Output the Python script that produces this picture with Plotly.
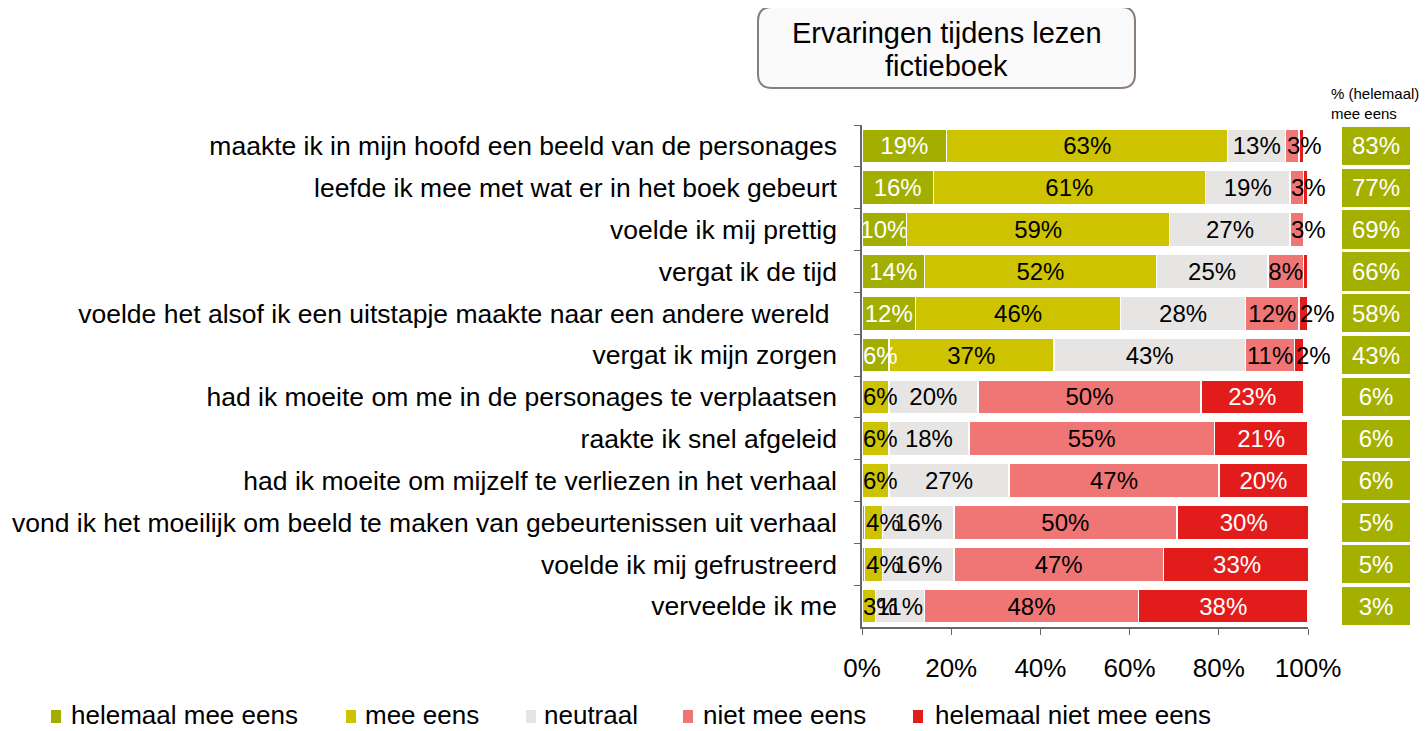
import plotly.graph_objects as go

categories = [
    "maakte ik in mijn hoofd een beeld van de personages",
    "leefde ik mee met wat er in het boek gebeurt",
    "voelde ik mij prettig",
    "vergat ik de tijd",
    "voelde het alsof ik een uitstapje maakte naar een andere wereld ",
    "vergat ik mijn zorgen",
    "had ik moeite om me in de personages te verplaatsen",
    "raakte ik snel afgeleid",
    "had ik moeite om mijzelf te verliezen in het verhaal",
    "vond ik het moeilijk om beeld te maken van gebeurtenissen uit verhaal",
    "voelde ik mij gefrustreerd",
    "verveelde ik me",
]

helemaal_mee_eens = [19, 16, 10, 14, 12, 6, 0, 0, 0, 0.6, 0.6, 0]
mee_eens = [63, 61, 59, 52, 46, 37, 6, 6, 6, 4, 4, 3]
neutraal = [13, 19, 27, 25, 28, 43, 20, 18, 27, 16, 16, 11]
niet_mee_eens = [3, 3, 3, 8, 12, 11, 50, 55, 47, 50, 47, 48]
helemaal_niet_mee_eens = [1, 1, 0, 1, 2, 2, 23, 21, 20, 30, 33, 38]

totaal_mee_eens = [83, 77, 69, 66, 58, 43, 6, 6, 6, 5, 5, 3]

tick_values = [0, 20, 40, 60, 80, 100]
tick_labels = ["0%", "20%", "40%", "60%", "80%", "100%"]

title_lines = ["Ervaringen tijdens lezen", "fictieboek"]

# name, values, bar colour, label colour inside bar, label colour when small
series = [
    ("helemaal mee eens", helemaal_mee_eens, "#a2ae00", "white", "white"),
    ("mee eens", mee_eens, "#cdc300", "black", "black"),
    ("neutraal", neutraal, "#e6e5e3", "black", "black"),
    ("niet mee eens", niet_mee_eens, "#f07575", "black", "black"),
    ("helemaal niet mee eens", helemaal_niet_mee_eens, "#e21b1b", "white", "black"),
]
# legend entry positions (screen px): marker left edge, text left edge
legend_marker_x = [51, 346, 526, 683, 913]
legend_text_x = [70, 364, 543, 702, 934]

# page offset (body margin) handling
OFF = 8
FW, FH = 1419, 723


def px(x):
    return (x - OFF) / FW


def py(y):
    return 1 - (y - OFF) / FH


FONT = "Liberation Sans, Arial, sans-serif"
SMALL = 7  # segments narrower than this get a left-anchored label

fig = go.Figure()
annotations = []
shapes = []
cum = [0.0] * len(categories)
for i, (name, vals, color, tcolor, scolor) in enumerate(series):
    fig.add_trace(go.Bar(
        y=categories, x=vals, name=name, orientation="h",
        marker=dict(color=color, line=dict(color="white", width=1.5)),
        text=[f"{round(v)}%" if v >= SMALL else "" for v in vals],
        textposition="inside", insidetextanchor="middle",
        textangle=0, constraintext="none",
        textfont=dict(color=tcolor, size=24, family=FONT),
        hoverinfo="skip", width=0.82, showlegend=False,
        xaxis="x", yaxis="y",
    ))
    for j, v in enumerate(vals):
        if 2 <= v < SMALL:
            annotations.append(dict(
                x=cum[j], y=categories[j], xref="x", yref="y",
                text=f"{round(v)}%", showarrow=False, xanchor="left",
                yanchor="middle", borderpad=0,
                font=dict(color=scolor, size=24, family=FONT)))
        cum[j] += v
    # legend entry
    mx = legend_marker_x[i]
    shapes.append(dict(type="rect", xref="paper", yref="paper",
                       x0=px(mx), x1=px(mx + 10), y0=py(723), y1=py(710),
                       fillcolor=color, line=dict(width=0)))
    annotations.append(dict(text=name, x=px(legend_text_x[i]), y=py(715),
                            xref="paper", yref="paper", xanchor="left",
                            yanchor="middle", showarrow=False, borderpad=0,
                            font=dict(size=26, color="black", family=FONT)))

fig.add_trace(go.Bar(
    y=categories, x=[1] * len(categories), orientation="h",
    marker=dict(color="#a4b000", line=dict(width=0)),
    text=[f"{v}%" for v in totaal_mee_eens],
    textposition="inside", insidetextanchor="middle", textangle=0,
    constraintext="none",
    textfont=dict(color="white", size=24, family=FONT),
    showlegend=False, hoverinfo="skip", width=0.92,
    xaxis="x2", yaxis="y2",
))

y0p, y1p = py(627), py(125)

fig.update_layout(
    width=FW, height=FH,
    margin=dict(l=0, r=0, t=0, b=0),
    paper_bgcolor="white", plot_bgcolor="white",
    barmode="stack",
    showlegend=False,
    font=dict(family=FONT, size=26, color="black"),
    xaxis=dict(domain=[px(862), px(1308)], range=[0, 100],
               tickmode="array", tickvals=tick_values, ticktext=tick_labels,
               showgrid=False, zeroline=False, showline=True,
               linecolor="#666666", linewidth=1.5, ticks="outside",
               ticklen=6, tickcolor="#666666", automargin=False,
               ticklabelstandoff=11, tickfont=dict(size=26)),
    yaxis=dict(domain=[y0p, y1p], autorange="reversed",
               showgrid=False, zeroline=False, showline=True,
               linecolor="#666666", linewidth=1.5, ticks="outside",
               tickson="boundaries", ticklen=6, tickcolor="#666666",
               automargin=False, ticklabelstandoff=18,
               tickfont=dict(size=26.5)),
    xaxis2=dict(domain=[px(1342), px(1410)], range=[0, 1], visible=False,
                anchor="y2"),
    yaxis2=dict(domain=[y0p, y1p], autorange="reversed", visible=False,
                anchor="x2", matches="y"),
)

# rounded title box
bx0, bx1, by0, by1 = px(758), px(1135), py(88), py(7)
rx, ry = 14 / FW, 14 / FH
path = (f"M {bx0+rx},{by1} L {bx1-rx},{by1} Q {bx1},{by1} {bx1},{by1-ry} "
        f"L {bx1},{by0+ry} Q {bx1},{by0} {bx1-rx},{by0} "
        f"L {bx0+rx},{by0} Q {bx0},{by0} {bx0},{by0+ry} "
        f"L {bx0},{by1-ry} Q {bx0},{by1} {bx0+rx},{by1} Z")
shapes.append(dict(type="path", path=path, xref="paper", yref="paper",
                   line=dict(color="#8a7f78", width=2), fillcolor="#fafafa",
                   layer="below"))

for line, ly in zip(title_lines, [33, 66]):
    annotations.append(dict(text=line, x=(bx0 + bx1) / 2, y=py(ly),
                            xref="paper", yref="paper", showarrow=False,
                            xanchor="center", yanchor="middle",
                            font=dict(size=29, color="black", family=FONT)))

annotations.append(dict(text="% (helemaal)<br>mee eens", x=px(1329),
                        y=py(104), xref="paper", yref="paper",
                        xanchor="left", yanchor="middle", showarrow=False,
                        align="left",
                        font=dict(size=15, color="black", family=FONT)))

fig.update_layout(annotations=annotations, shapes=shapes)

fig.write_html("out.html")
